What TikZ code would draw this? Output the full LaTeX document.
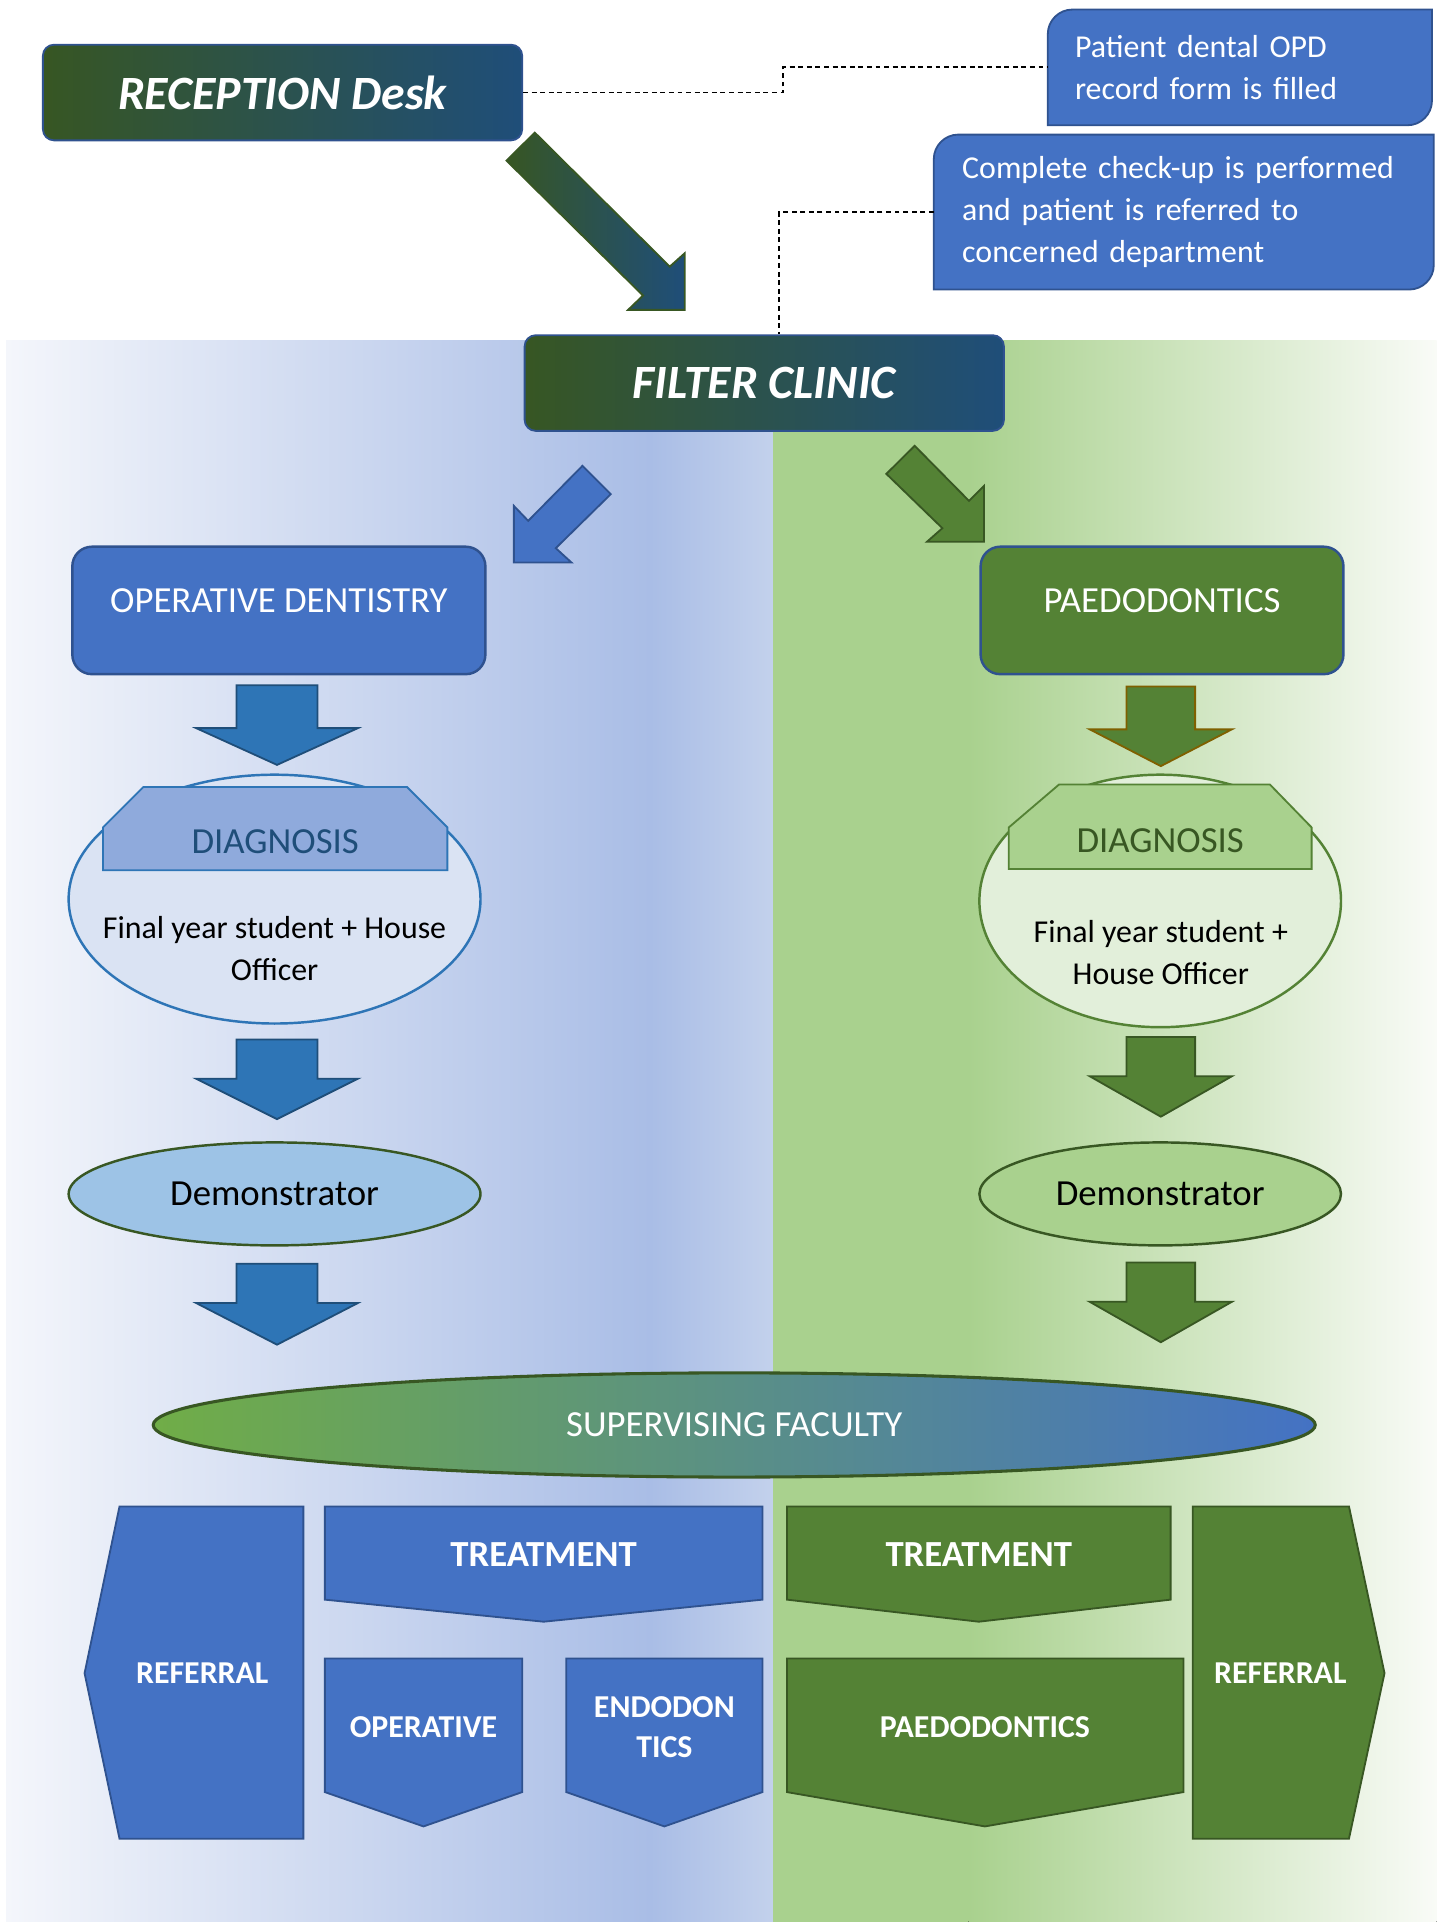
\documentclass[tikz,border=0pt]{standalone}
\usepackage{fontspec}
\setmainfont{Carlito}
\usetikzlibrary{shapes.geometric,backgrounds,calc}

\definecolor{bluefill}{HTML}{4472C4}
\definecolor{blueline}{HTML}{2F528F}
\definecolor{greenfill}{HTML}{548235}
\definecolor{greenline}{HTML}{385723}
\definecolor{darkgreen}{HTML}{375623}
\definecolor{darkblue}{HTML}{1F4E79}
\definecolor{arrowblue}{HTML}{2E75B6}
\definecolor{arrowbrown}{HTML}{7F6000}
\definecolor{lightblue}{HTML}{9DC3E6}
\definecolor{lightgreen}{HTML}{A9D18E}
\definecolor{paleblue}{HTML}{DAE3F3}
\definecolor{palegreen}{HTML}{E2EFDA}
\definecolor{headblue}{HTML}{8FAADC}
\definecolor{brightgreen}{HTML}{70AD47}
\definecolor{bgwhite}{HTML}{F4F6FB}
\definecolor{bgblue}{HTML}{A9BDE6}
\definecolor{bgblue2}{HTML}{C3D1EC}
\definecolor{bgpale}{HTML}{F9FBF7}

\begin{document}
\begin{tikzpicture}[x=1pt, y=-1pt,
  titlebox/.style={draw=blueline, line width=1.5pt, rounded corners=9pt,
    left color=darkgreen, right color=darkblue, text=white,
    font=\fontsize{39}{46}\selectfont\bfseries\itshape,
    minimum width=391pt, minimum height=78pt},
  notebox/.style={fill=bluefill, draw=blueline, line width=1.5pt},
  notetext/.style={text=white, font=\fontsize{26}{34}\selectfont, align=left, inner sep=0pt},
  leader/.style={line width=1.5pt, dash pattern=on 4pt off 3pt},
  deptbox/.style={draw=blueline, line width=2pt, rounded corners=16pt, text=white,
    font=\fontsize{30}{36}\selectfont, minimum height=104pt,
    text height=20pt, text depth=16pt},
  blockL/.style={fill=arrowblue, draw=darkblue, line width=1.5pt},
  blockR/.style={fill=greenfill, draw=greenline, line width=1.5pt},
  diagbox/.style={ellipse, line width=2pt, inner sep=0pt},
  headtext/.style={font=\fontsize{30}{36}\selectfont},
  plaintext/.style={font=\fontsize{26}{34}\selectfont, align=center},
  demo/.style={ellipse, draw=greenline, line width=2pt, inner sep=0pt,
    font=\fontsize{30}{36}\selectfont, minimum height=84pt},
  opshape/.style={fill=bluefill, draw=blueline, line width=1.5pt},
  paeshape/.style={fill=greenfill, draw=greenline, line width=1.5pt},
  shapetext/.style={text=white, font=\fontsize{30}{36}\selectfont\bfseries},
  smalltext/.style={text=white, font=\fontsize{26}{32}\selectfont\bfseries, align=center}]
\useasboundingbox (0,0) rectangle (1176,1568);

% фон
\fill[left color=bgwhite, right color=bgblue] (5,278) rectangle (531,1570);
\fill[left color=bgblue, right color=bgblue2] (530,278) rectangle (631,1570);
\fill[lightgreen] (631,278) rectangle (800,1570);
\fill[left color=lightgreen, right color=bgpale] (790,278) rectangle (1172,1570);

% регистратура и пояснения
\node[titlebox] (reception) at (230.5,75.5) {RECEPTION Desk};
\node[notetext, text width=269pt, inner xsep=22pt, minimum height=94pt] (formnote)
  at (1011.5,55) {Patient dental OPD\\record form is filled};
\node[notetext, text width=361.5pt, inner xsep=23pt, minimum height=126pt] (checknote)
  at (965.75,173) {Complete check-up is performed\\and patient is referred to\\concerned department};
\begin{scope}[on background layer]
\draw[notebox] (formnote.south west) -- ($(formnote.north west)+(0,20)$)
  .. controls ($(formnote.north west)+(0,9)$) and ($(formnote.north west)+(9,0)$)
  .. ($(formnote.north west)+(20,0)$)
  -- (formnote.north east) -- ($(formnote.south east)+(0,-20)$)
  .. controls ($(formnote.south east)+(0,-9)$) and ($(formnote.south east)+(-9,0)$)
  .. ($(formnote.south east)+(-20,0)$) -- cycle;
\draw[notebox] (checknote.south west) -- ($(checknote.north west)+(0,20)$)
  .. controls ($(checknote.north west)+(0,9)$) and ($(checknote.north west)+(9,0)$)
  .. ($(checknote.north west)+(20,0)$)
  -- (checknote.north east) -- ($(checknote.south east)+(0,-20)$)
  .. controls ($(checknote.south east)+(0,-9)$) and ($(checknote.south east)+(-9,0)$)
  .. ($(checknote.south east)+(-20,0)$) -- cycle;
\end{scope}
\draw[leader] (reception.east) -- ++(212,0) |- (formnote.west);

% большая стрелка
\draw[line width=1.5pt, draw=greenline, left color=darkgreen, right color=darkblue]
  (436.3,108.2) -- (546.4,217.5) -- (558.6,206.6) -- (558.6,252.8)
  -- (512.4,252.8) -- (524.6,241.1) -- (413.2,131) -- cycle;

% фильтр-клиника
\node[titlebox] (filter) at (623.5,312.5) {FILTER CLINIC};
\draw[leader] (checknote.west) -| ($(filter.north)+(12,0)$);

% косые стрелки
\draw[fill=bluefill, draw=blueline, line width=1.5pt]
  (475.2,380) -- (498.3,403.1) -- (453.4,447.2) -- (466.2,458.9)
  -- (419.2,458.9) -- (419.2,412.7) -- (430.9,424.9) -- cycle;
\draw[fill=greenfill, draw=greenline, line width=1.5pt]
  (746.2,363.7) -- (790.5,408.6) -- (802.7,396.4) -- (802.7,442)
  -- (756.2,442) -- (768.8,430.9) -- (723.1,386.6) -- cycle;

% отделения
\node[deptbox, fill=bluefill, minimum width=337pt] (opdent) at (227.5,498) {OPERATIVE DENTISTRY};
\node[deptbox, fill=greenfill, minimum width=296pt] (paedo) at (948,498) {PAEDODONTICS};

% стрелки вниз
\draw[blockL] (193,559) -- (259,559) -- (259,594) -- (292,594) -- (226,624) -- (160,594) -- (193,594) -- cycle;
\draw[blockR, draw=arrowbrown] (919,560) -- (975,560) -- (975,595) -- (1005,595) -- (947,625) -- (889,595) -- (919,595) -- cycle;

% диагностика
\node[diagbox, draw=arrowblue, fill=paleblue, minimum width=336pt, minimum height=203pt] (opdiag) at (224,733.5) {};
\draw[line width=1.5pt, draw=arrowblue, fill=headblue]
  (84,710) -- (84,675) -- (117,642) -- (332,642) -- (365,675) -- (365,710) -- cycle;
\node[headtext, text=darkblue] (opdiaghead) at (224.5,687) {DIAGNOSIS};
\node[plaintext] (opdiagtext) at (224,774) {Final year student + House\\Officer};

\node[diagbox, draw=greenfill, fill=palegreen, minimum width=295pt, minimum height=206pt] (paediag) at (946.5,735) {};
\draw[line width=1.5pt, draw=greenfill, fill=lightgreen]
  (823,709) -- (823,675) -- (864,640) -- (1036,640) -- (1070,675) -- (1070,709) -- cycle;
\node[headtext, text=greenline] (paediaghead) at (946.5,686) {DIAGNOSIS};
\node[plaintext] (paediagtext) at (947,777) {Final year student +\\House Officer};

\draw[blockL] (193,848) -- (259,848) -- (259,880) -- (292,880) -- (226,913) -- (160,880) -- (193,880) -- cycle;
\draw[blockR] (919,846) -- (975,846) -- (975,878) -- (1005,878) -- (947,911) -- (889,878) -- (919,878) -- cycle;

% демонстраторы
\node[demo, fill=lightblue, minimum width=336pt] (opdemo) at (224,974) {Demonstrator};
\node[demo, fill=lightgreen, minimum width=295pt] (paedemo) at (946.5,974) {Demonstrator};

\draw[blockL] (193,1031) -- (259,1031) -- (259,1063) -- (292,1063) -- (226,1097) -- (160,1063) -- (193,1063) -- cycle;
\draw[blockR] (919,1030) -- (975,1030) -- (975,1062) -- (1005,1062) -- (947,1095) -- (889,1062) -- (919,1062) -- cycle;

% кураторы
\node[ellipse, draw=greenline, line width=2.5pt, left color=brightgreen, right color=bluefill,
  text=white, font=\fontsize{30}{36}\selectfont, minimum width=948pt, minimum height=85pt]
  (faculty) at (599,1162.5) {SUPERVISING FACULTY};

% лечение и направление
\draw[opshape] (97.5,1229) -- (247.5,1229) -- (247.5,1500) -- (97.5,1500) -- (69,1365) -- cycle;
\draw[opshape] (265,1229) -- (622,1229) -- (622,1305) -- (443.5,1323) -- (265,1305) -- cycle;
\draw[opshape] (265,1353) -- (426,1353) -- (426,1462) -- (345.5,1490) -- (265,1462) -- cycle;
\draw[opshape] (462,1353) -- (622,1353) -- (622,1462) -- (542,1490) -- (462,1462) -- cycle;
\draw[paeshape] (642,1229) -- (955,1229) -- (955,1305) -- (798.5,1323) -- (642,1305) -- cycle;
\draw[paeshape] (642,1353) -- (965.5,1353) -- (965.5,1462) -- (803.5,1490) -- (642,1462) -- cycle;
\draw[paeshape] (973,1229) -- (1100.5,1229) -- (1129.5,1365) -- (1100.5,1500) -- (973,1500) -- cycle;

\node[smalltext] (opreferral) at (165,1365) {REFERRAL};
\node[shapetext] (optreat) at (443.5,1268) {TREATMENT};
\node[smalltext] (operative) at (345.5,1409) {OPERATIVE};
\node[smalltext] (endo) at (542,1409) {ENDODON\\TICS};
\node[shapetext] (paetreat) at (798.5,1268) {TREATMENT};
\node[smalltext] (paedotreat) at (803.5,1409) {PAEDODONTICS};
\node[smalltext] (paereferral) at (1044.5,1365) {REFERRAL};
\end{tikzpicture}
\end{document}
